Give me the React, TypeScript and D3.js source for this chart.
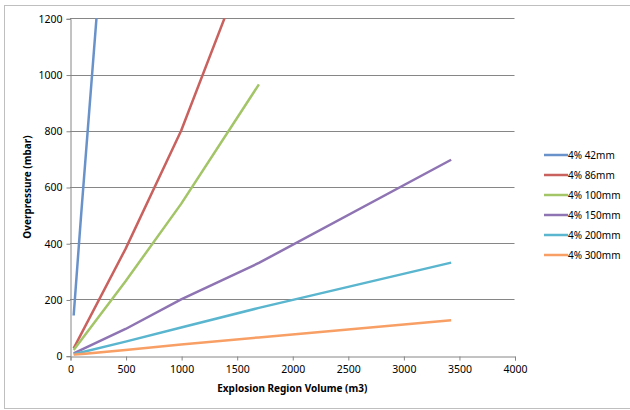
import React, { useRef, useEffect } from "react";
import * as d3 from "d3";

// series values: [volume m3, overpressure mbar]
const seriesNames = ["4% 42mm", "4% 86mm", "4% 100mm", "4% 150mm", "4% 200mm", "4% 300mm"];
const seriesColors = ["#6A92CA", "#C9625F", "#A3C567", "#8F74B3", "#5AB5CE", "#F89F66"];

const s42 = [[33, 143], [100, 500], [250, 1260]];
const s86 = [[33, 26], [500, 380], [1000, 800], [1400, 1210]];
const s100 = [[33, 20], [500, 265], [1000, 540], [1700, 965]];
const s150 = [[33, 8], [500, 95], [1000, 200], [1700, 330], [3430, 697]];
const s200 = [[33, 5], [500, 50], [1000, 100], [1700, 170], [3430, 331]];
const s300 = [[33, 3], [500, 20], [1000, 40], [1700, 65], [3430, 126]];
const seriesData = [s42, s86, s100, s150, s200, s300];

const xTicks = [0, 500, 1000, 1500, 2000, 2500, 3000, 3500, 4000];
const yTicks = [0, 200, 400, 600, 800, 1000, 1200];

const W = 630;
const H = 410;
const FONT = "'Noto Sans', sans-serif";

const App = () => {
  const ref = useRef<SVGSVGElement>(null);

  useEffect(() => {
    const svg = d3.select(ref.current);
    svg.selectAll("*").remove();

    const left = 70, right = 514.5, top = 18.3, bottom = 355.7;
    const x = d3.scaleLinear().domain([0, 4000]).range([left, right]);
    const y = d3.scaleLinear().domain([0, 1200]).range([bottom, top]);

    // outer frame
    svg.append("rect")
      .attr("x", 4.5).attr("y", 5.5)
      .attr("width", 640).attr("height", 403)
      .attr("fill", "#fff").attr("stroke", "#BFBFBF").attr("stroke-width", 1);

    // gridlines
    svg.append("g")
      .selectAll("line")
      .data(yTicks.filter((d) => d > 0))
      .enter()
      .append("line")
      .attr("x1", left).attr("x2", right)
      .attr("y1", (d) => Math.round(y(d)) + 0.5)
      .attr("y2", (d) => Math.round(y(d)) + 0.5)
      .attr("stroke", "#868686").attr("stroke-width", 1);

    // y axis
    const yAxis = svg.append("g")
      .attr("transform", `translate(${left + 0.5},0.5)`)
      .call(d3.axisLeft(y).tickValues(yTicks).tickSize(4).tickPadding(4).tickFormat(d3.format("d")));
    yAxis.select(".domain").attr("stroke", "#868686");
    yAxis.selectAll(".tick line").attr("stroke", "#868686");
    yAxis.selectAll("text")
      .attr("font-family", FONT).attr("font-size", 10.5).attr("fill", "#000");

    // x axis
    const xAxis = svg.append("g")
      .attr("transform", `translate(0.5,${Math.round(bottom) + 0.5})`)
      .call(d3.axisBottom(x).tickValues(xTicks).tickSize(4).tickPadding(5).tickFormat(d3.format("d")));
    xAxis.select(".domain").attr("stroke", "#868686");
    xAxis.selectAll(".tick line").attr("stroke", "#868686");
    xAxis.selectAll("text")
      .attr("font-family", FONT).attr("font-size", 10.5).attr("fill", "#000");

    // axis titles
    svg.append("text")
      .attr("x", (left + right) / 2).attr("y", 392)
      .attr("text-anchor", "middle")
      .attr("font-family", FONT).attr("font-size", 10).attr("font-weight", "bold")
      .text("Explosion Region Volume (m3)");

    svg.append("text")
      .attr("transform", `translate(31,${(top + bottom) / 2}) rotate(-90)`)
      .attr("text-anchor", "middle")
      .attr("font-family", FONT).attr("font-size", 10).attr("font-weight", "bold")
      .text("Overpressure (mbar)");

    // clip lines to the plot area
    svg.append("clipPath").attr("id", "plotClip")
      .append("rect")
      .attr("x", left).attr("y", top).attr("width", right - left).attr("height", bottom - top);

    const line = d3.line<number[]>().x((d) => x(d[0])).y((d) => y(d[1]));

    svg.append("g")
      .attr("clip-path", "url(#plotClip)")
      .selectAll("path")
      .data(seriesData)
      .enter()
      .append("path")
      .attr("d", (d) => line(d))
      .attr("fill", "none")
      .attr("stroke", (_, i) => seriesColors[i])
      .attr("stroke-width", 2.5)
      .attr("stroke-linejoin", "round");

    // legend
    const legend = svg.append("g")
      .selectAll("g")
      .data(seriesNames)
      .enter()
      .append("g")
      .attr("transform", (_, i) => `translate(544,${155 + i * 20})`);

    legend.append("line")
      .attr("x1", 0).attr("x2", 24)
      .attr("stroke", (_, i) => seriesColors[i])
      .attr("stroke-width", 2.5);

    legend.append("text")
      .attr("x", 24).attr("y", 3.5)
      .attr("font-family", FONT).attr("font-size", 10)
      .text((d) => d);
  }, []);

  return (
    <svg
      ref={ref}
      width={W}
      height={H}
      style={{ position: "absolute", left: 0, top: 0, background: "#fff" }}
    ></svg>
  );
};

export default App;
